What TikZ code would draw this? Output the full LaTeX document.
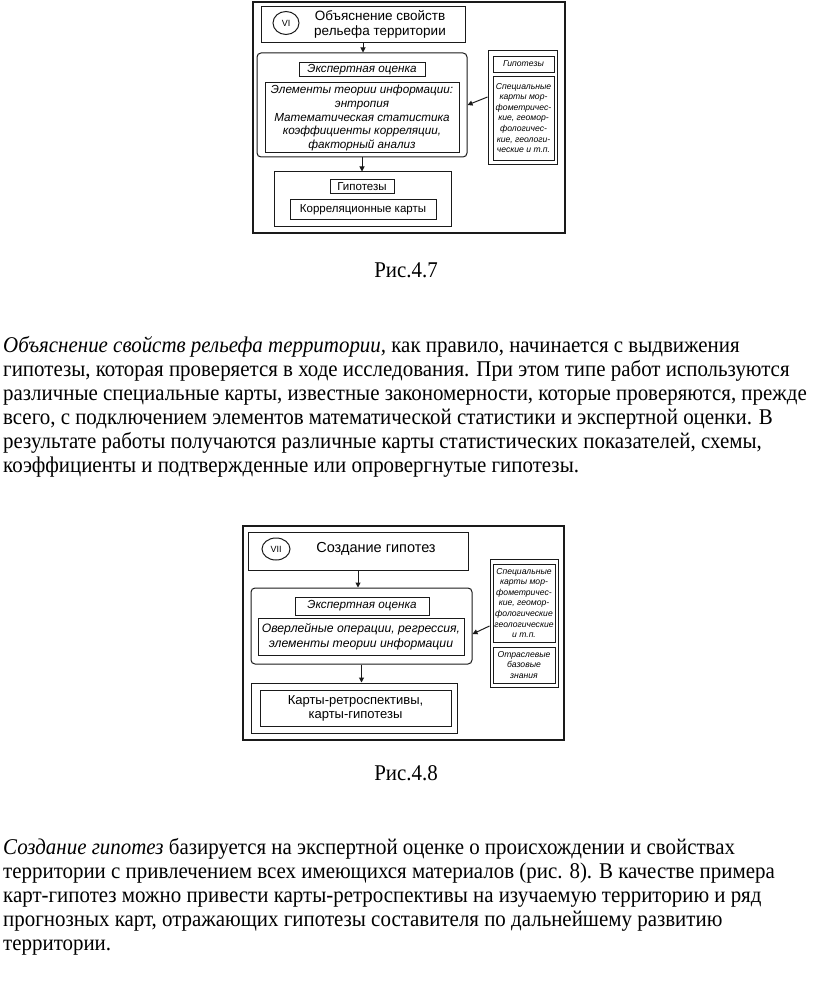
\documentclass[tikz,border=0pt]{standalone}
\usepackage{fontspec}
\setmainfont{Liberation Serif}
\setsansfont{Liberation Sans}
\newfontfamily\bodyfont[FakeStretch=0.93]{Liberation Serif}
\usetikzlibrary{shapes.geometric, arrows.meta, positioning}
\definecolor{inkgray}{HTML}{1A1A1A}
\tikzset{
  figframe/.style={draw=inkgray, line width=2.4pt, inner sep=0pt},
  box/.style={draw=inkgray, line width=1pt, inner sep=0pt, align=center,
              font=\sffamily\fontsize{11.5}{14}\selectfont},
  rbox/.style={box, rounded corners=4pt},
  ibox/.style={box, font=\sffamily\itshape\fontsize{11.7}{13.7}\selectfont},
  tinybox/.style={box, line width=0.8pt, font=\sffamily\itshape\fontsize{8.6}{10.6}\selectfont},
  numring/.style={ellipse, draw=inkgray, line width=1pt, inner sep=0pt,
                  font=\sffamily\fontsize{9}{9}\selectfont},
  titletext/.style={align=center, inner sep=0pt, font=\sffamily\fontsize{13.5}{15}\selectfont},
  arr/.style={-{Triangle[length=5pt, width=5pt]}, line width=1pt, draw=inkgray},
  caption/.style={inner sep=0pt, anchor=base, font=\bodyfont\fontsize{22.5}{24}\selectfont},
  para/.style={inner sep=0pt, anchor=base west, font=\bodyfont\fontsize{22.5}{24}\selectfont},
}

\begin{document}
\begin{tikzpicture}[x=1pt, y=-1pt]
  \useasboundingbox (0,0) rectangle (816,1008);

  % Fig. 4.7
  \node[figframe, minimum width=312, minimum height=231] (fig1) at (409,117.5) {};
  \node[box, minimum width=204, minimum height=36] (t1) at (363,25) {};
  \node[numring, minimum width=26, minimum height=23] (n1) at (286,23) {VI};
  \node[titletext] (t1txt) at (380,24) {Объяснение свойств\\рельефа территории};

  \node[rbox, minimum width=210, minimum height=104] (m1) at (362,105) {};
  \node[ibox, minimum width=126, minimum height=14] (e1) at (362,70) {Экспертная оценка};
  \node[ibox, minimum width=194, minimum height=70] (i1) at (362,118)
    {Элементы теории информации:\\энтропия\\Математическая статистика\\коэффициенты корреляции,\\факторный анализ};

  \node[box, minimum width=177, minimum height=55] (b1) at (362.5,199.5) {};
  \node[box, minimum width=64, minimum height=14] (h1) at (362,187) {Гипотезы};
  \node[box, minimum width=146, minimum height=20] (k1) at (363,210) {Корреляционные карты};

  % right column
  \node[box, minimum width=69, minimum height=114] (r1) at (522.5,108) {};
  \node[tinybox, minimum width=61, minimum height=16] (g1) at (523.5,64) {Гипотезы};
  \node[tinybox, minimum width=61, minimum height=84] (s1) at (523.5,118)
    {Специальные\\карты мор-\\фометричес-\\кие, геомор-\\фологичес-\\кие, геологи-\\ческие и т.п.};

  \draw[arr] (t1.south) -- (t1.south |- m1.north);
  \draw[arr] (m1.south) -- (m1.south |- b1.north);
  \draw[arr] ([yshift=11pt]r1.west) -- (m1.east);

  \node[caption] (cap1) at (406,277) {Рис.4.7};

  % paragraph 1
  \node[para] (p1a) at (3,352) {\textit{Объяснение свойств рельефа территории,} как правило, начинается с выдвижения};
  \node[para] (p1b) at (3,376) {гипотезы, которая проверяется в ходе исследования. При этом типе работ используются};
  \node[para] (p1c) at (3,400) {различные специальные карты, известные закономерности, которые проверяются, прежде};
  \node[para] (p1d) at (3,424) {всего, с подключением элементов математической статистики и экспертной оценки. В};
  \node[para] (p1e) at (3,448) {результате работы получаются различные карты статистических показателей, схемы,};
  \node[para] (p1f) at (3,472) {коэффициенты и подтвержденные или опровергнутые гипотезы.};

  % Fig. 4.8
  \node[figframe, minimum width=321, minimum height=214] (fig2) at (403.5,633) {};
  \node[box, minimum width=220, minimum height=38] (t2) at (358,551) {};
  \node[numring, minimum width=28, minimum height=22] (n2) at (276,549) {VII};
  \node[titletext, font=\sffamily\fontsize{14.5}{16}\selectfont] (t2txt) at (376,549) {Создание гипотез};

  \node[rbox, minimum width=221, minimum height=76] (m2) at (361.5,626) {};
  \node[ibox, minimum width=134, minimum height=18] (e2) at (362,606) {Экспертная оценка};
  \node[ibox, font=\sffamily\itshape\fontsize{12.2}{15}\selectfont, minimum width=206, minimum height=37] (i2) at (361,637)
    {Оверлейные операции, регрессия,\\элементы теории информации};

  \node[box, minimum width=206, minimum height=50] (b2) at (354,708) {};
  \node[box, font=\sffamily\fontsize{13}{14}\selectfont, minimum width=191, minimum height=36] (b2in) at (355.5,708)
    {Карты-ретроспективы,\\карты-гипотезы};

  % right column
  \node[box, minimum width=68, minimum height=128] (r2) at (524,623) {};
  \node[tinybox, minimum width=62, minimum height=78] (s2) at (524,603)
    {Специальные\\карты мор-\\фометричес-\\кие, геомор-\\фологические\\геологические\\и т.п.};
  \node[tinybox, minimum width=62, minimum height=36] (o2) at (524,665)
    {Отраслевые\\базовые\\знания};

  \draw[arr] (t2.south) -- (t2.south |- m2.north);
  \draw[arr] (m2.south) -- (m2.south |- b2.north);
  \draw[arr] ([yshift=-3pt]r2.west) -- ([yshift=-8pt]m2.east);

  \node[caption] (cap2) at (406,780) {Рис.4.8};

  % paragraph 2
  \node[para] (p2a) at (3,854) {\textit{Создание гипотез} базируется на экспертной оценке о происхождении и свойствах};
  \node[para] (p2b) at (3,878) {территории с привлечением всех имеющихся материалов (рис. 8). В качестве примера};
  \node[para] (p2c) at (3,902) {карт-гипотез можно привести карты-ретроспективы на изучаемую территорию и ряд};
  \node[para] (p2d) at (3,926) {прогнозных карт, отражающих гипотезы составителя по дальнейшему развитию};
  \node[para] (p2e) at (3,950) {территории.};

\end{tikzpicture}
\end{document}
